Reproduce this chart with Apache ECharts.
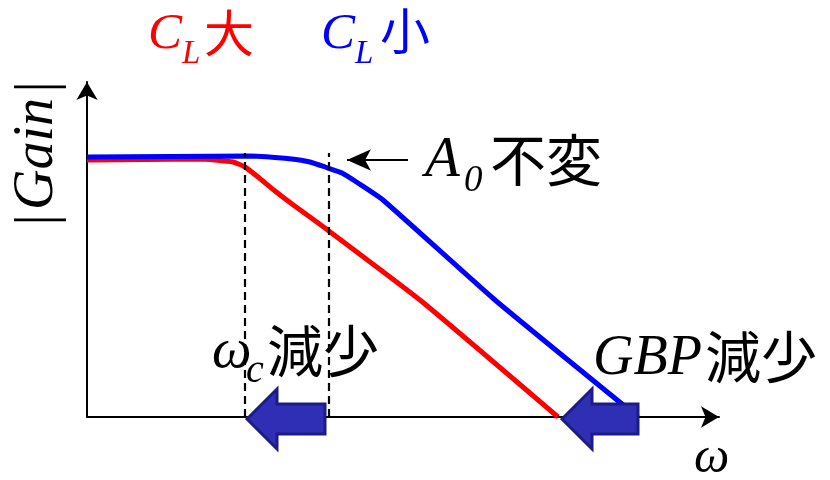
<!DOCTYPE html>
<html>
<head>
<meta charset="utf-8">
<script src="https://cdn.jsdelivr.net/npm/echarts@6/dist/echarts.min.js"></script>
<style>html,body{margin:0;padding:0;background:#fff}#c{width:830px;height:480px}</style>
</head>
<body>
<div id="c"></div>
<script>
// Schematic frequency axis (ω) and gain (|Gain|) in arbitrary units
const redCL_large = [[0,257],[113,258],[128,257],[146,255],[158,250],[171,240],[188,226],[205,213],[238,189],[333,117],[471,0]];
const blueCL_small = [[0,260],[163,261],[205,258],[223,255],[238,250],[255,244],[271,234],[296,217],[408,117],[551,0]];
const cutoffRed = 158;   // ωc for CL大
const cutoffBlue = 242;  // ωc for CL小
const dashTop = 264;
const shiftArrows = [[160, 238, -2], [475, 551, -2]]; // [tipX, tailX, y]
const a0Pointer = [[321, 257], [260, 257]];

const SERIF = 'Liberation Serif';
const CJK = 'Noto Sans CJK JP';

const chart = echarts.init(document.getElementById('c'), null, {renderer: 'canvas'});

function t(x, y, text, size, color, family, italic, extra) {
  return Object.assign({type: 'text', x: x, y: y, silent: true, z: 100,
    style: {text: text, fill: color, fontFamily: family, fontSize: size,
      fontStyle: italic ? 'italic' : 'normal', fontWeight: 'normal',
      align: extra && extra.align || 'left', verticalAlign: 'middle'}},
    extra && extra.rotation ? {rotation: extra.rotation} : {});
}

const axisCommon = {
  type: 'value', min: 0,
  axisTick: {show: false}, axisLabel: {show: false}, splitLine: {show: false},
  axisLine: {show: true, symbol: ['none', 'arrow'], symbolSize: [16, 18],
    lineStyle: {color: '#000', width: 2}}
};

const rot = {rotation: Math.PI / 2, align: 'center'};

chart.setOption({
  animation: false,
  backgroundColor: '#fff',
  grid: {left: 87, top: 82, right: 111, bottom: 63},
  xAxis: Object.assign({}, axisCommon, {max: 632}),
  yAxis: Object.assign({}, axisCommon, {max: 335}),
  series: [
    {type: 'line', data: redCL_large, symbol: 'none', smooth: 0.15, z: 3,
      lineStyle: {color: '#ff0000', width: 5}},
    {type: 'line', data: blueCL_small, symbol: 'none', smooth: 0.15, z: 4,
      lineStyle: {color: '#0000ff', width: 5},
      markLine: {silent: true, symbol: ['none', 'arrow'], symbolSize: [16, 24],
        label: {show: false}, lineStyle: {color: '#000', width: 2, type: 'solid'},
        emphasis: {disabled: true},
        data: [[{coord: a0Pointer[0]}, {coord: a0Pointer[1]}]]}},
    {type: 'line', data: [[cutoffRed, 0], [cutoffRed, dashTop]], symbol: 'none', z: 5,
      lineStyle: {color: '#000', width: 2.2, type: [8, 5]}},
    {type: 'line', data: [[cutoffBlue, 0], [cutoffBlue, dashTop]], symbol: 'none', z: 5,
      lineStyle: {color: '#000', width: 2.2, type: [8, 5]}},
    {type: 'custom', data: shiftArrows, clip: false, z: 10,
      renderItem: function (params, api) {
        const tip = api.coord([api.value(0), api.value(2)]);
        const tail = api.coord([api.value(1), api.value(2)]);
        const headLen = 30, headH = 30, bodyH = 15;
        const hx = tip[0] + headLen, y = tip[1];
        return {type: 'polygon', shape: {points: [
          [tip[0], y], [hx, y - headH], [hx, y - bodyH], [tail[0], y - bodyH],
          [tail[0], y + bodyH], [hx, y + bodyH], [hx, y + headH]]},
          style: {fill: '#2f2fb5', stroke: '#1c1c85', lineWidth: 3}};
      }}
  ],
  graphic: [
    t(148, 35, 'C', 51, '#ff0000', SERIF, true),
    t(182, 54, 'L', 33, '#ff0000', SERIF, true),
    t(204, 33, '大', 50, '#ff0000', CJK, false),
    t(321, 35, 'C', 51, '#0000ff', SERIF, true),
    t(355, 54, 'L', 33, '#0000ff', SERIF, true),
    t(380, 31, '小', 50, '#0000ff', CJK, false),
    t(425, 161, 'A', 57, '#000', SERIF, true),
    t(464, 181, '0', 37, '#000', SERIF, true),
    t(490, 160, '不変', 56, '#000', CJK, false),
    t(212, 352, 'ω', 56, '#000', SERIF, true),
    t(246, 371, 'c', 40, '#000', SERIF, true),
    t(267, 351, '減少', 56, '#000', CJK, false),
    t(593, 359, 'GBP', 56, '#000', SERIF, true),
    t(705, 357, '減少', 56, '#000', CJK, false),
    t(694, 459, 'ω', 50, '#000', SERIF, true),
    t(39, 87, '|', 56, '#000', SERIF, false, rot),
    t(37, 154, 'Gain', 56, '#000', SERIF, true, rot),
    t(39, 220, '|', 56, '#000', SERIF, false, rot)
  ]
});
</script>
</body>
</html>
